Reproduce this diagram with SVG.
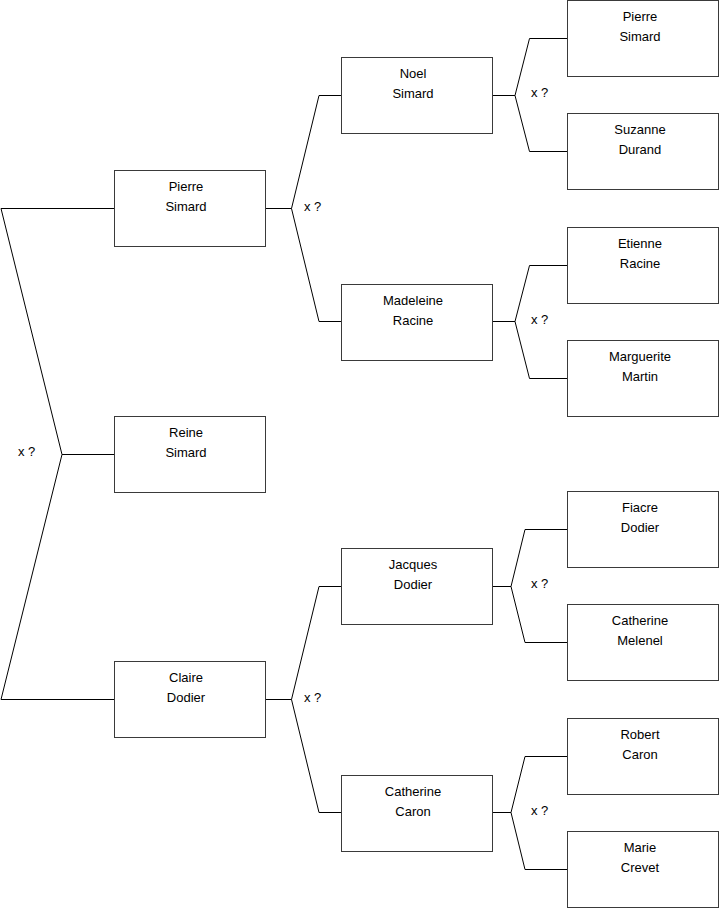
<svg xmlns="http://www.w3.org/2000/svg" width="719" height="908" viewBox="0 0 719 908">
<style>
.box{fill:#fff;stroke:#3a3a3a;stroke-width:1}
.ln{fill:none;stroke:#000;stroke-width:1}
text{font-family:"Liberation Sans",Arial,sans-serif;font-size:13px;fill:#000}
.c{text-anchor:middle}
</style>
<rect width="719" height="908" fill="#fff"/>
<g id="connectors">
<polyline class="ln" points="114,208.5 1,208.5 62,454.5 1,699.5 114,699.5"/>
<line class="ln" x1="62" y1="454.5" x2="114" y2="454.5"/>
<polyline class="ln" points="341,95.5 319,95.5 291.5,208.5 319,321.5 341,321.5"/>
<line class="ln" x1="265" y1="208.5" x2="291.5" y2="208.5"/>
<polyline class="ln" points="341,586.5 319,586.5 291.5,699.5 319,812.5 341,812.5"/>
<line class="ln" x1="265" y1="699.5" x2="291.5" y2="699.5"/>
<polyline class="ln" points="568,38.5 529.5,38.5 515,95.5 529.5,151.5 568,151.5"/>
<line class="ln" x1="492" y1="95.5" x2="515" y2="95.5"/>
<polyline class="ln" points="568,265.5 529.5,265.5 515,321.5 529.5,378.5 568,378.5"/>
<line class="ln" x1="492" y1="321.5" x2="515" y2="321.5"/>
<polyline class="ln" points="568,529.5 525,529.5 511,586.5 525,642.5 568,642.5"/>
<line class="ln" x1="492" y1="586.5" x2="511" y2="586.5"/>
<polyline class="ln" points="568,756.5 525,756.5 511,812.5 525,869.5 568,869.5"/>
<line class="ln" x1="492" y1="812.5" x2="511" y2="812.5"/>
<text x="18" y="456">x ?</text>
<text x="304" y="211">x ?</text>
<text x="304" y="702">x ?</text>
<text x="531" y="97">x ?</text>
<text x="531" y="324">x ?</text>
<text x="531" y="588">x ?</text>
<text x="531" y="815">x ?</text>
</g>
<g id="n-pierre-simard-1"><rect class="box" x="114.5" y="170.5" width="151" height="76"/><text class="c" x="186" y="191">Pierre</text><text class="c" x="186" y="211">Simard</text></g>
<g id="n-reine-simard"><rect class="box" x="114.5" y="416.5" width="151" height="76"/><text class="c" x="186" y="437">Reine</text><text class="c" x="186" y="457">Simard</text></g>
<g id="n-claire-dodier"><rect class="box" x="114.5" y="661.5" width="151" height="76"/><text class="c" x="186" y="682">Claire</text><text class="c" x="186" y="702">Dodier</text></g>
<g id="n-noel-simard"><rect class="box" x="341.5" y="57.5" width="151" height="76"/><text class="c" x="413" y="78">Noel</text><text class="c" x="413" y="98">Simard</text></g>
<g id="n-madeleine-racine"><rect class="box" x="341.5" y="284.5" width="151" height="76"/><text class="c" x="413" y="305">Madeleine</text><text class="c" x="413" y="325">Racine</text></g>
<g id="n-jacques-dodier"><rect class="box" x="341.5" y="548.5" width="151" height="76"/><text class="c" x="413" y="569">Jacques</text><text class="c" x="413" y="589">Dodier</text></g>
<g id="n-catherine-caron"><rect class="box" x="341.5" y="775.5" width="151" height="76"/><text class="c" x="413" y="796">Catherine</text><text class="c" x="413" y="816">Caron</text></g>
<g id="n-pierre-simard-3"><rect class="box" x="567.5" y="0.5" width="151" height="76"/><text class="c" x="640" y="21">Pierre</text><text class="c" x="640" y="41">Simard</text></g>
<g id="n-suzanne-durand"><rect class="box" x="567.5" y="113.5" width="151" height="76"/><text class="c" x="640" y="134">Suzanne</text><text class="c" x="640" y="154">Durand</text></g>
<g id="n-etienne-racine"><rect class="box" x="567.5" y="227.5" width="151" height="76"/><text class="c" x="640" y="248">Etienne</text><text class="c" x="640" y="268">Racine</text></g>
<g id="n-marguerite-martin"><rect class="box" x="567.5" y="340.5" width="151" height="76"/><text class="c" x="640" y="361">Marguerite</text><text class="c" x="640" y="381">Martin</text></g>
<g id="n-fiacre-dodier"><rect class="box" x="567.5" y="491.5" width="151" height="76"/><text class="c" x="640" y="512">Fiacre</text><text class="c" x="640" y="532">Dodier</text></g>
<g id="n-catherine-melenel"><rect class="box" x="567.5" y="604.5" width="151" height="76"/><text class="c" x="640" y="625">Catherine</text><text class="c" x="640" y="645">Melenel</text></g>
<g id="n-robert-caron"><rect class="box" x="567.5" y="718.5" width="151" height="76"/><text class="c" x="640" y="739">Robert</text><text class="c" x="640" y="759">Caron</text></g>
<g id="n-marie-crevet"><rect class="box" x="567.5" y="831.5" width="151" height="76"/><text class="c" x="640" y="852">Marie</text><text class="c" x="640" y="872">Crevet</text></g>
</svg>
